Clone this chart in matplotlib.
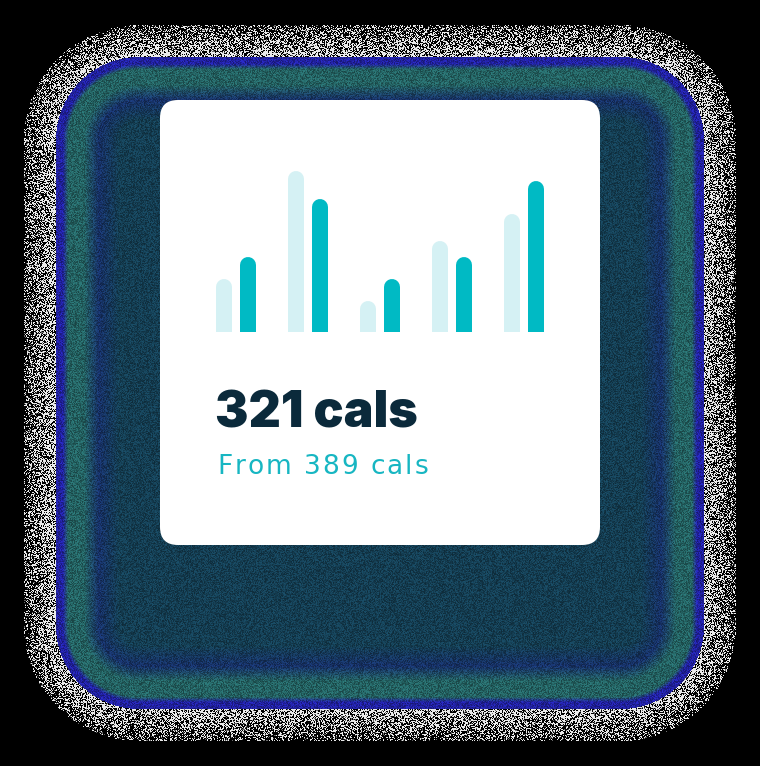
import numpy as np
import matplotlib
matplotlib.use("Agg")
import matplotlib.pyplot as plt
from matplotlib.patches import FancyBboxPatch

# calorie bars, previous period (light) vs current period (dark)
days = ["1", "2", "3", "4", "5"]
previous = [53, 161, 31, 91, 118]
current = [75, 133, 53, 75, 151]
headline = "321 cals"
subline = "From 389 cals"

W, H = 760, 766
fig = plt.figure(figsize=(W / 100, H / 100), dpi=100)
fig.patch.set_facecolor("black")

# background glow (decoration) drawn as an image in pixel coords
bg = fig.add_axes([0, 0, 1, 1])
bg.set_xlim(0, W)
bg.set_ylim(H, 0)
bg.axis("off")

yy, xx = np.mgrid[0:H, 0:W] + 0.5
cx, cy, hx, hy, r = 380, 383, 356, 358, 115
qx = np.abs(xx - cx) - (hx - r)
qy = np.abs(yy - cy) - (hy - r)
d = np.hypot(np.maximum(qx, 0), np.maximum(qy, 0)) + np.minimum(np.maximum(qx, qy), 0) - r

# deterministic hash texture for the grainy look
h = np.sin(xx * 12.9898 + yy * 78.233) * 43758.5453
grain = h - np.floor(h)

navy = np.array([0.08, 0.24, 0.32])
deep = np.array([0.09, 0.19, 0.40])
teal = np.array([0.14, 0.38, 0.38])
blue = np.array([0.13, 0.13, 0.62])

def band(a, b, c0, c1):
    m = (d >= a) & (d < b)
    t = ((d[m] - a) / (b - a))[:, None]
    img[m] = c0 * (1 - t) + c1 * t

img = np.zeros((H, W, 3))
img[d < -95] = navy
band(-95, -75, navy, deep)
band(-75, -60, deep, teal)
band(-60, -44, teal, teal)
band(-44, -39, teal, blue)
band(-39, -32, blue, blue)
inside = d < -32
img[inside] *= (0.7 + 0.6 * grain[inside])[:, None]
# speckled fringe: white dots on black, thinning outward
m = (d >= -32) & (d < 0)
dens = 0.6 - 0.35 * (d + 32) / 32
white = m & (grain < dens)
img[m] = 0.0
img[white] = 0.92
img[m & ~white & (grain > 0.93)] = 0.4
bg.imshow(img, extent=[0, W, H, 0], interpolation="nearest", zorder=0)

card = FancyBboxPatch((160 + 18, 100 + 18), 440 - 36, 445 - 36,
                      boxstyle="round,pad=18", fc="white", ec="none", zorder=2)
bg.add_patch(card)

bg.text(215, 428, headline, fontsize=36, fontfamily="Inter", fontweight="black",
        color="#0b2a3b", va="baseline", ha="left", zorder=3)

# subline with letter spacing, one glyph at a time
renderer = fig.canvas.get_renderer()
xpos = 217
tracking = 2.0
for ch in subline:
    t = bg.text(xpos, 474, ch, fontsize=19, fontfamily="DejaVu Sans",
                color="#17b6c2", va="baseline", ha="left", zorder=3)
    if ch == " ":
        adv = 19 * 100 / 72 * 0.318
    else:
        bb = t.get_window_extent(renderer)
        adv = bb.width
    xpos += adv + tracking

# bars axes: 1 y-unit = 1 pixel
x0, x1, ytop, ybase = 200, 560, 160, 332
ax = fig.add_axes([x0 / W, 1 - ybase / H, (x1 - x0) / W, (ybase - ytop) / H])
ax.set_xlim(-0.5, 4.5)
ax.set_ylim(0, ybase - ytop)
ax.axis("off")
ax.patch.set_alpha(0)

x = np.arange(len(days))
lw = 16 * 72 / 100  # 16 px wide bars
cap = 8
ax.vlines(x - 1 / 6, -cap, np.array(previous) - cap, colors="#d5f1f4",
          linewidth=lw, capstyle="round")
ax.vlines(x + 1 / 6, -cap, np.array(current) - cap, colors="#00bac4",
          linewidth=lw, capstyle="round")

fig.savefig("out.png", dpi=100, facecolor="black")
